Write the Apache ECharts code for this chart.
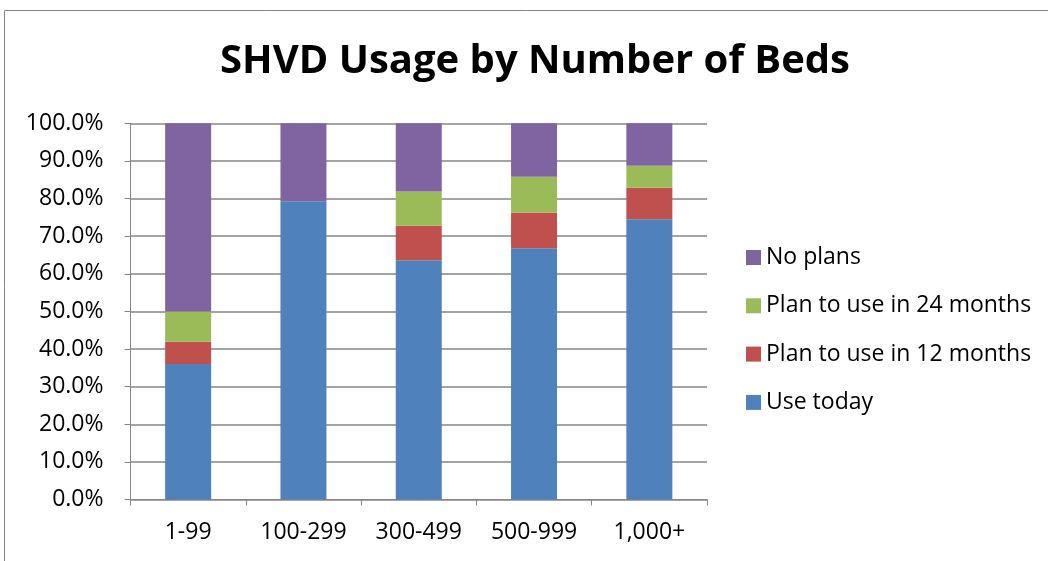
<!DOCTYPE html>
<html>
<head>
<meta charset="utf-8">
<script src="https://cdn.jsdelivr.net/npm/echarts@6/dist/echarts.min.js"></script>
<style>
  html, body { margin: 0; padding: 0; background: #fff; }
  #chart { width: 1048px; height: 561px; }
</style>
</head>
<body>
<div id="chart"></div>
<script>
// Hospital bed-count bands
const categories = ['1-99', '100-299', '300-499', '500-999', '1,000+'];

// Share of respondents (percent) per band
const useToday   = [36.0, 79.3, 63.6, 66.8, 74.5];
const plan12     = [5.9, 0.0, 9.2, 9.4, 8.4];
const plan24     = [8.1, 0.0, 9.1, 9.6, 5.8];
const noPlans    = [50.0, 20.7, 18.1, 14.2, 11.3];

const yTicks = [0, 10, 20, 30, 40, 50, 60, 70, 80, 90, 100];

const FONT = '"Open Sans", "Liberation Sans", sans-serif';
const GRAY = '#868686';

const chart = echarts.init(document.getElementById('chart'), null, { renderer: 'canvas' });

function barSeries(name, data, color) {
  return {
    name: name,
    type: 'bar',
    stack: 'total',
    data: data,
    barWidth: 46,
    itemStyle: { color: color },
    emphasis: { disabled: true }
  };
}

chart.setOption({
  animation: false,
  backgroundColor: '#fff',
  graphic: [{
    type: 'rect',
    shape: { x: 4.5, y: 10.5, width: 1100, height: 600 },
    style: { fill: 'none', stroke: GRAY, lineWidth: 1 },
    silent: true
  }],
  title: {
    text: 'SHVD Usage by Number of Beds',
    left: 535,
    top: 42,
    padding: 0,
    textAlign: 'center',
    textStyle: { fontFamily: FONT, fontWeight: 'bold', fontSize: 40, color: '#000' }
  },
  legend: {
    orient: 'vertical',
    left: 746,
    top: 246,
    padding: 0,
    itemWidth: 15,
    itemHeight: 15,
    itemGap: 25.3,
    icon: 'rect',
    data: ['No plans', 'Plan to use in 24 months', 'Plan to use in 12 months', 'Use today'],
    textStyle: { fontFamily: FONT, fontSize: 23, color: '#000' },
    itemStyle: { borderWidth: 0 }
  },
  grid: { left: 130.5, top: 123.3, width: 576.5, height: 376.2, containLabel: false },
  xAxis: {
    type: 'category',
    data: categories,
    axisLine: { lineStyle: { color: GRAY, width: 1 } },
    axisTick: { show: true, length: 6, lineStyle: { color: GRAY } },
    axisLabel: { fontFamily: FONT, fontSize: 23, color: '#000', margin: 21 }
  },
  yAxis: {
    type: 'value',
    min: yTicks[0],
    max: yTicks[yTicks.length - 1],
    interval: yTicks[1] - yTicks[0],
    axisLine: { show: true, lineStyle: { color: GRAY, width: 1 } },
    axisTick: { show: true, length: 6, lineStyle: { color: GRAY } },
    splitLine: { lineStyle: { color: GRAY, width: 1.5 } },
    axisLabel: {
      fontFamily: FONT, fontSize: 23, color: '#000', margin: 27,
      formatter: function (v) { return v.toFixed(1) + '%'; }
    }
  },
  series: [
    barSeries('Use today', useToday, '#4F81BD'),
    barSeries('Plan to use in 12 months', plan12, '#C0504D'),
    barSeries('Plan to use in 24 months', plan24, '#9BBB59'),
    barSeries('No plans', noPlans, '#8064A2')
  ]
});
</script>
</body>
</html>
